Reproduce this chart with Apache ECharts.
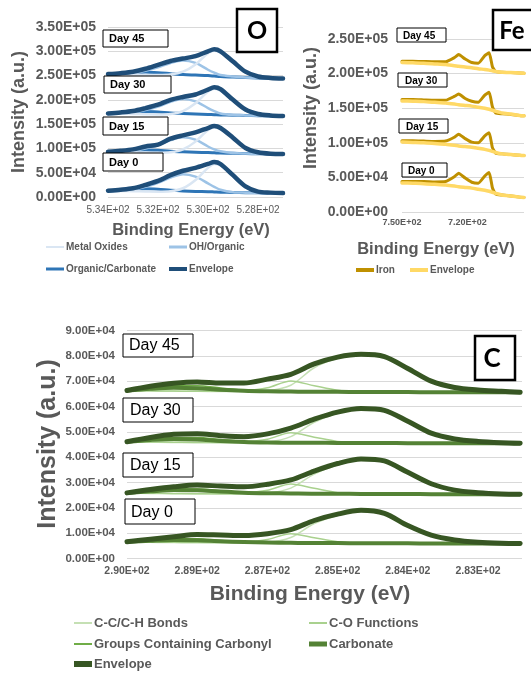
<!DOCTYPE html>
<html><head><meta charset="utf-8">
<script src="https://cdn.jsdelivr.net/npm/echarts@6/dist/echarts.min.js"></script>
<style>html,body{margin:0;padding:0;background:#fff;}.c{position:absolute;left:0;top:0;width:531px;height:673px;}</style>
</head><body>
<div id="po" class="c"></div><div id="pfe" class="c"></div><div id="pc" class="c"></div>
<script>
// ---------------- DATA (intensities in thousands of a.u.) ----------------
const days = ['Day 0', 'Day 15', 'Day 30', 'Day 45'];

// O 1s panel
const oBE = [534, 533.5, 533, 532.5, 532, 531.5, 531, 530.5, 530, 529.75, 529.5, 529, 528.5, 528, 527.5, 527];
const oMetalOxides = [
  [13, 12.5, 12, 11.5, 11, 12, 18, 35, 60, 68, 65, 43, 20, 10, 8.5, 8],
  [93, 92.5, 92, 91.5, 91, 92, 98, 114, 138, 143, 140, 120, 100, 91, 89, 88.5],
  [172, 171.5, 171, 170.5, 170, 171, 177, 193, 217, 223, 219, 198, 178, 170, 167.5, 167],
  [253, 252.5, 252, 251.5, 251, 252, 258, 273, 296, 301, 297, 277, 256, 247, 245, 244]
];
const oOHOrganic = [
  [12, 13, 15, 21, 29, 40, 47, 42, 28, 21, 15, 10, 9, 8.5, 8, 8],
  [92, 93, 95, 100, 107, 117, 123, 118, 104, 98, 94, 90.5, 89.5, 89, 88.5, 88.5],
  [171, 172, 174, 179, 186, 196, 202, 197, 183, 177, 172, 169, 168, 167.5, 167, 167],
  [252, 253, 255, 260, 267, 276, 281, 276, 262, 256, 251, 248, 246, 245, 244.5, 244]
];
const oOrganicCarbonate = [
  [13, 14, 15, 17, 16, 14, 12.5, 11.5, 11, 10.5, 10, 9.5, 9, 8.5, 8, 8],
  [93, 94, 95, 97, 96, 94, 93, 92, 91.5, 91, 90.5, 90, 89.5, 89, 88.5, 88.5],
  [172, 173, 174, 176, 175, 173, 172, 171, 170, 169.5, 169, 168.5, 168, 167.5, 167, 167],
  [253, 254, 255, 257, 256, 254, 252, 251, 250, 249, 248, 247, 246, 245, 244.5, 244]
];
const oEnvelope = [
  [13, 15, 18, 25, 33, 45, 54, 60, 68, 72, 68, 45, 22, 11, 9, 8],
  [93, 95, 98, 104, 108, 120, 127, 133, 142, 146, 142, 122, 101, 92, 89, 88.5],
  [172, 174, 177, 183, 190, 200, 206, 211, 221, 226, 222, 200, 180, 171, 168, 167],
  [253, 255, 258, 264, 272, 280, 285, 290, 300, 304, 300, 279, 258, 248, 245, 244]
];
const oXTicks = [534, 532, 530, 528];
const oXTickLabels = ['5.34E+02', '5.32E+02', '5.30E+02', '5.28E+02'];

// Fe 2p panel
const feBE = [750, 745, 740, 735, 730, 726, 724, 721, 718, 715, 712, 710, 708.5, 707, 704, 700, 696, 694];
const feIron = [
  [44, 44, 44, 43.5, 44, 51, 56, 49, 43, 41.5, 52, 57, 35, 26, 24.5, 23, 21.5, 21],
  [103, 103, 102.5, 102, 102.5, 108, 112.5, 106, 101, 100, 110, 114.5, 93, 85, 84, 83, 82, 81.5],
  [162.5, 162.5, 162, 161.5, 161.5, 167, 170.5, 164, 160, 158.5, 169, 173, 152, 143, 142, 141, 139.5, 139],
  [218, 218, 217.5, 217, 217, 223, 227.5, 221, 216, 215, 226, 230, 210, 203, 202, 201.5, 201, 200.5]
];
const feEnvelope = [
  [42, 41.5, 41, 40, 39, 37.5, 36.5, 35.5, 34.5, 33, 31.5, 30, 28.5, 27, 24.5, 23, 21.5, 21],
  [101, 100.5, 100, 99, 98, 96.5, 95.5, 94.5, 93.5, 92, 90.5, 89, 87.5, 86, 84, 83, 82, 81.5],
  [160.5, 160, 159.5, 158.5, 157.5, 156, 155, 154, 153, 151.5, 150, 148.5, 147, 145.5, 143, 141.5, 139.5, 139],
  [216, 215.5, 215, 214, 213, 211.5, 210.5, 209.5, 208.5, 207, 206, 205, 204, 203, 202, 201.5, 201, 200.5]
];
const feXTicks = [750, 720];
const feXTickLabels = ['7.50E+02', '7.20E+02'];

// C 1s panel
const cBE = [290, 289.5, 289, 288.5, 288, 287.5, 287, 286.5, 286, 285.5, 285, 284.5, 284, 283.5, 283, 282.5, 282, 281.6];
const cCCBonds = [
  [6.5, 6.4, 6.3, 6.3, 6.2, 6.2, 6.4, 8.3, 13.8, 17.0, 18.8, 17.7, 12.9, 9.1, 7.2, 6.3, 6.0, 5.9],
  [25.8, 25.7, 25.6, 25.6, 25.5, 25.5, 25.8, 27.8, 33.3, 37.0, 39.0, 38.2, 33.7, 29.3, 27.0, 26.0, 25.5, 25.4],
  [46.0, 45.9, 45.8, 45.8, 45.7, 45.7, 46.0, 48.1, 53.8, 57.3, 59.1, 58.3, 54.0, 49.4, 47.2, 46.2, 45.7, 45.5],
  [66.2, 66.1, 66.0, 66.0, 65.9, 65.9, 66.2, 68.4, 75.3, 79.0, 80.5, 79.6, 74.9, 69.9, 67.5, 66.5, 66.0, 65.6]
];
const cCOFunctions = [
  [6.6, 6.5, 6.4, 6.3, 6.3, 6.5, 7.5, 9.8, 8.2, 6.6, 6.1, 6.0, 6.0, 5.9, 5.9, 5.9, 5.9, 5.9],
  [25.9, 25.8, 25.7, 25.6, 25.6, 25.8, 26.9, 29.4, 27.7, 26.0, 25.6, 25.5, 25.5, 25.4, 25.4, 25.4, 25.4, 25.4],
  [46.1, 46.0, 45.9, 45.8, 45.8, 46.0, 47.1, 49.6, 47.9, 46.2, 45.7, 45.6, 45.6, 45.5, 45.5, 45.5, 45.5, 45.5],
  [66.3, 66.2, 66.1, 66.0, 66.0, 66.2, 67.4, 70.1, 68.2, 66.4, 65.8, 65.7, 65.7, 65.6, 65.6, 65.6, 65.6, 65.6]
];
const cCarbonyl = [
  [6.6, 7.3, 7.9, 7.8, 7.1, 6.6, 6.3, 6.2, 6.1, 6.1, 6.0, 6.0, 6.0, 5.9, 5.9, 5.9, 5.9, 5.9],
  [25.9, 26.7, 27.4, 27.4, 26.7, 26.1, 25.8, 25.7, 25.6, 25.6, 25.5, 25.5, 25.5, 25.4, 25.4, 25.4, 25.4, 25.4],
  [46.1, 47.0, 47.8, 47.8, 47.0, 46.3, 45.9, 45.8, 45.7, 45.6, 45.6, 45.6, 45.5, 45.5, 45.5, 45.5, 45.5, 45.5],
  [66.3, 67.3, 68.2, 68.2, 67.3, 66.5, 66.1, 65.9, 65.8, 65.8, 65.7, 65.7, 65.7, 65.6, 65.6, 65.6, 65.6, 65.6]
];
const cCarbonate = [
  [6.6, 7.0, 7.3, 7.2, 6.8, 6.5, 6.3, 6.2, 6.1, 6.1, 6.0, 6.0, 6.0, 5.9, 5.9, 5.9, 5.9, 5.9],
  [25.9, 26.5, 27.0, 26.9, 26.4, 26.0, 25.8, 25.7, 25.6, 25.6, 25.5, 25.5, 25.5, 25.4, 25.4, 25.4, 25.4, 25.4],
  [46.1, 46.8, 47.2, 47.0, 46.4, 46.0, 45.8, 45.7, 45.7, 45.6, 45.6, 45.6, 45.5, 45.5, 45.5, 45.5, 45.5, 45.5],
  [66.3, 67.0, 67.4, 67.2, 66.6, 66.2, 66.0, 65.9, 65.8, 65.8, 65.7, 65.7, 65.7, 65.6, 65.6, 65.6, 65.6, 65.6]
];
const cEnvelope = [
  [6.6, 7.6, 8.6, 9.5, 9.3, 9.1, 9.8, 11.4, 15.0, 17.5, 19.0, 17.8, 13.0, 9.2, 7.3, 6.4, 6.0, 5.9],
  [25.9, 27.2, 28.3, 29.0, 28.6, 28.3, 29.3, 31.0, 34.5, 37.5, 39.3, 38.5, 34.0, 29.5, 27.0, 26.0, 25.5, 25.4],
  [46.1, 47.8, 49.0, 49.2, 48.5, 48.1, 49.2, 51.5, 55.0, 57.8, 59.2, 58.5, 54.2, 49.5, 47.2, 46.2, 45.7, 45.5],
  [66.3, 68.0, 69.2, 69.7, 69.3, 69.3, 70.8, 72.7, 76.8, 79.5, 80.6, 79.7, 75.0, 70.0, 67.5, 66.5, 66.0, 65.6]
];
const cXTicks = [290, 288.5, 287, 285.5, 284, 282.5];
const cXTickLabels = ['2.90E+02', '2.89E+02', '2.87E+02', '2.85E+02', '2.84E+02', '2.83E+02'];

// ---------------- HELPERS ----------------
const FONT = '"Liberation Sans", Arial, sans-serif';
const GRAY = '#595959';
function sci(v) {
  if (Math.abs(v) < 1e-9) return '0.00E+00';
  let e = Math.floor(Math.log10(Math.abs(v)) + 1e-9);
  let m = v / Math.pow(10, e);
  if (Math.round(m * 100) / 100 >= 10) { m /= 10; e++; }
  return m.toFixed(2) + 'E' + (e < 0 ? '-' : '+') + (Math.abs(e) < 10 ? '0' : '') + Math.abs(e);
}
function tickLabel(vals, labels) {
  return function (v) {
    for (let i = 0; i < vals.length; i++) if (Math.abs(vals[i] - v) < 1e-6) return labels[i];
    return '';
  };
}
function mk(name, xs, rows, color, width, smooth) {
  return rows.map(r => ({
    type: 'line', name: name, data: xs.map((x, i) => [x, r[i]]),
    smooth: smooth, symbol: 'none', showSymbol: false, silent: true,
    lineStyle: { color: color, width: width, cap: 'round', join: 'round' },
    itemStyle: { color: color }
  }));
}
function leg(name, iconLeft, cy, fs, h, lh) {
  return {
    data: [name], left: iconLeft, top: cy - lh / 2, padding: 0, icon: 'rect',
    itemWidth: 18, itemHeight: h, selectedMode: false,
    textStyle: { color: GRAY, fontWeight: 'bold', fontSize: fs, fontFamily: FONT, lineHeight: lh, padding: [0, 0, 0, -3] }
  };
}
function xAx(min, max, vals, labels, fs, bold, margin) {
  return {
    type: 'value', inverse: true, min: min, max: max,
    axisLine: { show: false }, axisTick: { show: false }, splitLine: { show: false },
    axisLabel: { customValues: vals, formatter: tickLabel(vals, labels), color: GRAY, fontSize: fs,
      fontWeight: bold ? 'bold' : 'normal', fontFamily: FONT, margin: margin }
  };
}
function yAx(max, interval, fs, margin) {
  return {
    type: 'value', min: 0, max: max, interval: interval,
    axisLine: { show: false }, axisTick: { show: false },
    splitLine: { lineStyle: { color: '#D9D9D9', width: 1 } },
    axisLabel: { formatter: v => sci(v * 1000), color: GRAY, fontSize: fs, fontWeight: 'bold', fontFamily: FONT, margin: margin }
  };
}
function box(x, y, w, h, lw) {
  return { type: 'rect', z: 5, shape: { x: x, y: y, width: w, height: h }, style: { fill: '#fff', stroke: '#000', lineWidth: lw } };
}
function txt(x, y, text, font, color, align, rot) {
  return { type: 'text', z: 6, x: x, y: y, rotation: rot || 0,
    style: { text: text, font: font, fill: color, align: align || 'left', verticalAlign: 'middle', textAlign: align || 'left', textVerticalAlign: 'middle' } };
}

// ---------------- O PANEL ----------------
const oChart = echarts.init(document.getElementById('po'), null, { renderer: 'canvas' });
oChart.setOption({
  animation: false,
  grid: { left: 108, top: 27, width: 175, height: 170, outerBoundsMode: 'none', containLabel: false },
  xAxis: xAx(527, 534, oXTicks, oXTickLabels, 10, false, 8),
  yAxis: yAx(350, 50, 14, 12),
  legend: [
    leg('Metal Oxides', 46, 247, 10, 2, 14),
    leg('OH/Organic', 169, 247, 10, 3, 14),
    leg('Organic/Carbonate', 46, 269, 10, 3, 14),
    leg('Envelope', 169, 269, 10, 4, 14)
  ],
  series: [].concat(
    mk('Organic/Carbonate', oBE, oOrganicCarbonate, '#2E75B6', 3, 0.3),
    mk('OH/Organic', oBE, oOHOrganic, '#9DC3E6', 2.5, 0.3),
    mk('Metal Oxides', oBE, oMetalOxides, '#DAE6F3', 2.5, 0.3),
    mk('Envelope', oBE, oEnvelope, '#1F4E79', 4.5, 0.3)
  ),
  graphic: [
    box(103, 30, 65, 17, 1), txt(109, 39, 'Day 45', 'bold 11px ' + FONT, '#000'),
    box(104, 76, 67, 17, 1), txt(110, 85, 'Day 30', 'bold 11px ' + FONT, '#000'),
    box(103, 117, 65, 18, 1), txt(109, 126.5, 'Day 15', 'bold 11px ' + FONT, '#000'),
    box(103, 153, 60, 18, 1), txt(109, 162.5, 'Day 0', 'bold 11px ' + FONT, '#000'),
    box(237, 9, 40, 43, 2.5), txt(257, 31, 'O', 'bold 25px Lato, "Open Sans", sans-serif', '#000', 'center'),
    txt(19, 112, 'Intensity (a.u.)', 'bold 18px ' + FONT, GRAY, 'center', Math.PI / 2),
    txt(191, 230, 'Binding Energy (eV)', 'bold 16.5px ' + FONT, GRAY, 'center')
  ]
});

// ---------------- Fe PANEL ----------------
const feChart = echarts.init(document.getElementById('pfe'), null, { renderer: 'canvas' });
feChart.setOption({
  animation: false,
  grid: { left: 402, top: 39, width: 122, height: 173, outerBoundsMode: 'none', containLabel: false },
  xAxis: xAx(694, 750, feXTicks, feXTickLabels, 9, true, 6),
  yAxis: yAx(250, 50, 14, 14),
  legend: [
    leg('Iron', 356, 270, 10, 4, 14),
    leg('Envelope', 410, 270, 10, 4, 14)
  ],
  series: [].concat(
    mk('Iron', feBE, feIron, '#BF9000', 3, 0.15),
    mk('Envelope', feBE, feEnvelope, '#FFD966', 3.5, 0.2)
  ),
  graphic: [
    box(397, 28, 49, 14, 1), txt(403, 36.5, 'Day 45', 'bold 10px ' + FONT, '#000'),
    box(398, 73, 49, 14, 1), txt(405, 81.5, 'Day 30', 'bold 10px ' + FONT, '#000'),
    box(399, 119, 49, 14, 1), txt(406, 127.5, 'Day 15', 'bold 10px ' + FONT, '#000'),
    box(402, 163, 45, 14, 1), txt(408, 171.5, 'Day 0', 'bold 10px ' + FONT, '#000'),
    box(493, 10, 40, 40, 2.5), txt(512, 31, 'Fe', 'bold 24px Lato, "Open Sans", sans-serif', '#000', 'center'),
    txt(311, 108, 'Intensity (a.u.)', 'bold 18px ' + FONT, GRAY, 'center', Math.PI / 2),
    txt(436, 249, 'Binding Energy (eV)', 'bold 16.5px ' + FONT, GRAY, 'center')
  ]
});

// ---------------- C PANEL ----------------
const cChart = echarts.init(document.getElementById('pc'), null, { renderer: 'canvas' });
cChart.setOption({
  animation: false,
  grid: { left: 127, top: 330.5, width: 395, height: 228, outerBoundsMode: 'none', containLabel: false },
  xAxis: xAx(281.56, 290, cXTicks, cXTickLabels, 10.5, true, 7),
  yAxis: yAx(90, 10, 11.5, 12),
  legend: [
    leg('C-C/C-H Bonds', 74, 623, 13, 2, 16),
    leg('C-O Functions', 309, 623, 13, 2, 16),
    leg('Groups Containing Carbonyl', 74, 644, 13, 2, 16),
    leg('Carbonate', 309, 644, 13, 5, 16),
    leg('Envelope', 74, 664, 13, 6, 16)
  ],
  series: [].concat(
    mk('C-C/C-H Bonds', cBE, cCCBonds, '#C5E0B4', 1.5, 0.3),
    mk('C-O Functions', cBE, cCOFunctions, '#A9D18E', 1.5, 0.3),
    mk('Groups Containing Carbonyl', cBE, cCarbonyl, '#70AD47', 1.5, 0.3),
    mk('Carbonate', cBE, cCarbonate, '#548235', 4, 0.3),
    mk('Envelope', cBE, cEnvelope, '#375623', 5, 0.3)
  ),
  graphic: [
    box(123, 334, 70, 23, 1), txt(129, 346, 'Day 45', '16px ' + FONT, '#000'),
    box(123, 398, 70, 24, 1), txt(130, 410.5, 'Day 30', '16px ' + FONT, '#000'),
    box(123, 453, 70, 24, 1), txt(130, 466, 'Day 15', '16px ' + FONT, '#000'),
    box(125, 499, 70, 25, 1), txt(131, 512.5, 'Day 0', '16px ' + FONT, '#000'),
    box(475, 336, 40, 44, 2.5), txt(492, 358.5, 'C', 'bold 26px Lato, "Open Sans", sans-serif', '#000', 'center'),
    txt(48, 444, 'Intensity (a.u.)', 'bold 25px ' + FONT, GRAY, 'center', Math.PI / 2),
    txt(310, 594, 'Binding Energy (eV)', 'bold 21px ' + FONT, GRAY, 'center')
  ]
});
</script>
</body></html>
